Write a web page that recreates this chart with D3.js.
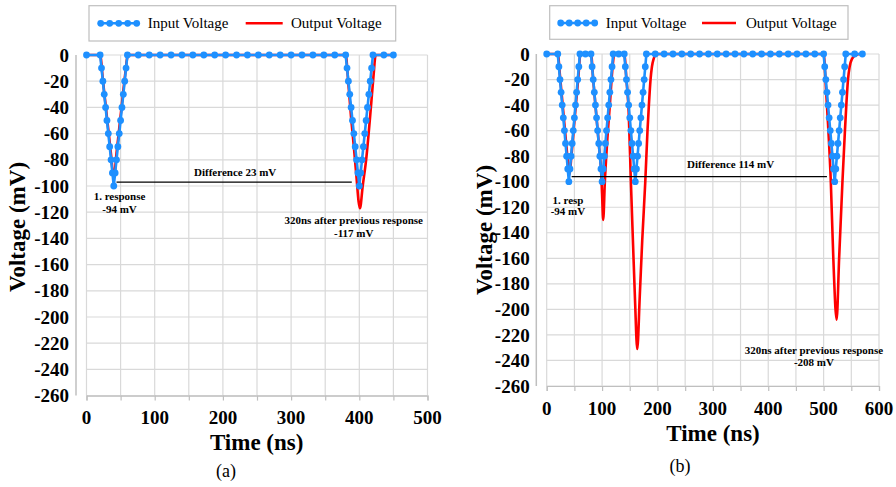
<!DOCTYPE html>
<html><head><meta charset="utf-8">
<script src="https://cdn.jsdelivr.net/npm/d3@7"></script>
<style>body{margin:0;background:#fff}svg{display:block}</style>
</head><body><svg id="c" width="896" height="487"></svg>
<script>
// ---------------- DATA ----------------
const yTicks = [0, -20, -40, -60, -80, -100, -120, -140, -160, -180, -200, -220, -240, -260];
const xTicksA = [0, 100, 200, 300, 400, 500];
const xTicksB = [0, 100, 200, 300, 400, 500, 600];
const xGridA = [0, 50, 100, 150, 200, 250, 300, 350, 400, 450, 500];
const xGridB = [0, 50, 100, 150, 200, 250, 300, 350, 400, 450, 500, 550, 600];
const seriesNames = ["Input Voltage", "Output Voltage"];

// (a) input voltage
const inputTimeA = [0, 20, 22, 24, 26, 28, 30, 32, 34, 36, 38, 40, 42, 44, 46, 48, 50, 52, 54, 56, 58, 60,
  76, 92, 108, 124, 140, 156, 172, 188, 204, 220, 236, 252, 268, 284, 300, 316, 332, 348, 364, 380,
  382, 384, 386, 388, 390, 392, 394, 396, 398, 400, 402, 404, 406, 408, 410, 412, 414, 416, 418, 420, 436, 450];
const inputVoltA = [0, 0, -10, -20, -30, -40, -50, -60, -70, -80, -90, -100, -90, -80, -70, -60, -50, -40, -30, -20, -10, 0,
  0, 0, 0, 0, 0, 0, 0, 0, 0, 0, 0, 0, 0, 0, 0, 0, 0, 0, 0, 0,
  -10, -20, -30, -40, -50, -60, -70, -80, -90, -100, -90, -80, -70, -60, -50, -40, -30, -20, -10, 0, 0, 0];
// (a) output voltage
const outputTimeA = [0, 20, 24, 28, 32, 36, 40, 44, 48, 52, 56, 61, 120, 240, 380, 384, 388, 392, 396, 399, 401, 405, 410, 417, 421, 424, 440, 450];
const outputVoltA = [0, 0, -19, -38, -57, -76, -94, -75, -56, -37, -18, 0, 0, 0, 0, -22, -48, -70, -94, -112, -117, -100, -80, -40, -15, 0, 0, 0];

// (b) input voltage
const inputTimeB = [0, 20, 22, 24, 26, 28, 30, 32, 34, 36, 38, 40, 42, 44, 46, 48, 50, 52, 54, 56, 58, 60,
  70, 80, 82, 84, 86, 88, 90, 92, 94, 96, 98, 100, 102, 104, 106, 108, 110, 112, 114, 116, 118, 120,
  130, 140, 142, 144, 146, 148, 150, 152, 154, 156, 158, 160, 162, 164, 166, 168, 170, 172, 174, 176, 178, 180,
  196, 212, 228, 244, 260, 276, 292, 308, 324, 340, 356, 372, 388, 404, 420, 436, 452, 468, 484, 500,
  502, 504, 506, 508, 510, 512, 514, 516, 518, 520, 522, 524, 526, 528, 530, 532, 534, 536, 538, 540, 556, 570];
const inputVoltB = [0, 0, -10, -20, -30, -40, -50, -60, -70, -80, -90, -100, -90, -80, -70, -60, -50, -40, -30, -20, -10, 0,
  0, 0, -10, -20, -30, -40, -50, -60, -70, -80, -90, -100, -90, -80, -70, -60, -50, -40, -30, -20, -10, 0,
  0, 0, -10, -20, -30, -40, -50, -60, -70, -80, -90, -100, -90, -80, -70, -60, -50, -40, -30, -20, -10, 0,
  0, 0, 0, 0, 0, 0, 0, 0, 0, 0, 0, 0, 0, 0, 0, 0, 0, 0, 0, 0,
  -10, -20, -30, -40, -50, -60, -70, -80, -90, -100, -90, -80, -70, -60, -50, -40, -30, -20, -10, 0, 0, 0];
// (b) output voltage
const outputTimeB = [0, 20, 24, 28, 32, 36, 41, 45, 49, 53, 57, 61, 70, 80, 84, 88, 92, 96, 98, 100, 102, 105, 109, 114, 119, 122,
  130, 140, 144, 148, 152, 156, 159.5, 163.5, 168, 172.5, 178, 182, 184.5, 187.5, 190, 193, 198, 300, 400, 500,
  504, 508, 513, 517.5, 523.5, 528, 534, 538.5, 541, 544, 547, 551, 558, 566, 570];
const outputVoltB = [0, 0, -17, -36, -55, -74, -94, -78, -58, -38, -19, 0, 0, 0, -20, -40, -60, -80, -90, -110, -130, -100, -70, -40, -10, 0,
  0, 0, -20, -45, -100, -150, -193, -231, -190, -146, -100, -60, -40, -20, -10, -4, 0, 0, 0, 0,
  -25, -55, -100, -160, -208, -160, -100, -60, -40, -20, -10, -4, -1, 0, 0];

// annotations (data units)
const diffA = { x1: 44, x2: 389, y: -97, label: "Difference 23 mV" };
const diffB = { x1: 45, x2: 506, y: -96, label: "Difference 114 mV" };
const notesA = [["1. response", "-94 mV"], ["320ns after previous response", "-117 mV"]];
const notesB = [["1. resp", "-94 mV"], ["320ns after previous response", "-208 mV"]];

// ---------------- DRAW ----------------
const BLUE = "#1e90ff", RED = "#ff0000", GRID = "#d9d9d9", AXIS = "#bfbfbf";
const FONT = "'Liberation Serif','Times New Roman',serif";
const svg = d3.select("#c");

function panel(cfg) {
  const g = svg.append("g");
  const x = d3.scaleLinear().domain(cfg.xDomain).range(cfg.xRange);
  const y = d3.scaleLinear().domain([0, -260]).range(cfg.yRange);
  const [x0, x1] = cfg.xRange, [y0, y1] = cfg.yRange;

  // grid
  g.append("g").selectAll("line").data(yTicks).join("line")
    .attr("x1", x0).attr("x2", x1).attr("y1", d => y(d)).attr("y2", d => y(d))
    .attr("stroke", GRID).attr("stroke-width", 1.2);
  g.append("g").selectAll("line").data(cfg.xGrid).join("line")
    .attr("x1", d => x(d)).attr("x2", d => x(d)).attr("y1", y0).attr("y2", y1)
    .attr("stroke", GRID).attr("stroke-width", 1.2);

  // x axis
  const xa = d3.axisBottom(x).tickValues(cfg.xGrid).tickSize(5).tickFormat("");
  const xg = g.append("g").attr("transform", `translate(0,${y1})`).call(xa);
  xg.select(".domain").attr("stroke", AXIS).attr("stroke-width", 1.2);
  xg.selectAll(".tick line").attr("stroke", AXIS).attr("stroke-width", 1.2);
  g.append("g").selectAll("text").data(cfg.xTicks).join("text")
    .attr("x", d => x(d)).attr("y", cfg.xLabelY).attr("text-anchor", "middle")
    .attr("font-family", FONT).attr("font-weight", "bold").attr("font-size", 19)
    .text(d => d);

  // y axis line (offset) + labels
  g.append("line").attr("x1", cfg.yAxisX).attr("x2", cfg.yAxisX).attr("y1", y0).attr("y2", y1)
    .attr("stroke", AXIS).attr("stroke-width", 1.5);
  g.append("g").selectAll("text").data(yTicks).join("text")
    .attr("x", cfg.yLabelX).attr("y", d => y(d)).attr("dy", "0.35em").attr("text-anchor", "end")
    .attr("font-family", FONT).attr("font-weight", "bold").attr("font-size", 19)
    .text(d => d);

  // titles
  g.append("text").attr("x", cfg.xTitle[0]).attr("y", cfg.xTitle[1]).attr("text-anchor", "middle")
    .attr("font-family", FONT).attr("font-weight", "bold").attr("font-size", 23).text("Time (ns)");
  g.append("text").attr("transform", `translate(${cfg.yTitle[0]},${cfg.yTitle[1]}) rotate(-90)`)
    .attr("text-anchor", "middle")
    .attr("font-family", FONT).attr("font-weight", "bold").attr("font-size", 23).text("Voltage (mV)");
  g.append("text").attr("x", cfg.caption[0]).attr("y", cfg.caption[1]).attr("text-anchor", "middle")
    .attr("font-family", FONT).attr("font-size", 18).text(cfg.caption[2]);

  // series
  const outData = cfg.outT.map((t, i) => [t, cfg.outV[i]]);
  const inData = cfg.inT.map((t, i) => [t, cfg.inV[i]]);
  g.append("path").datum(outData)
    .attr("d", d3.line().x(d => x(d[0])).y(d => y(d[1])).curve(d3.curveMonotoneX))
    .attr("fill", "none").attr("stroke", RED).attr("stroke-width", 2.6).attr("stroke-linejoin", "round");
  g.append("path").datum(inData)
    .attr("d", d3.line().x(d => x(d[0])).y(d => y(d[1])))
    .attr("fill", "none").attr("stroke", BLUE).attr("stroke-width", 2.6);
  g.append("g").selectAll("circle").data(inData).join("circle")
    .attr("cx", d => x(d[0])).attr("cy", d => y(d[1])).attr("r", 3.4).attr("fill", BLUE);

  // difference line
  g.append("line").attr("x1", x(cfg.diff.x1)).attr("x2", x(cfg.diff.x2))
    .attr("y1", y(cfg.diff.y)).attr("y2", y(cfg.diff.y)).attr("stroke", "#000").attr("stroke-width", 1.2);
  const ann = (tx, ty, s) => g.append("text").attr("x", x(tx)).attr("y", y(ty)).attr("text-anchor", "middle")
    .attr("font-family", FONT).attr("font-weight", "bold").attr("font-size", 11).text(s);
  ann(cfg.diffLabel[0], cfg.diffLabel[1], cfg.diff.label);
  cfg.notesPos.forEach((p, i) => {
    ann(p[0], p[1], cfg.notes[i][0]);
    ann(p[0], p[2], cfg.notes[i][1]);
  });

  // legend
  const L = cfg.legend;
  g.append("rect").attr("x", L.box[0]).attr("y", L.box[1]).attr("width", L.box[2]).attr("height", L.box[3])
    .attr("fill", "#fff").attr("stroke", AXIS).attr("stroke-width", 1.2);
  g.append("line").attr("x1", L.blue[0]).attr("x2", L.blue[1]).attr("y1", L.ly).attr("y2", L.ly)
    .attr("stroke", BLUE).attr("stroke-width", 2.6);
  const step = (L.blue[1] - L.blue[0]) / 4;
  g.append("g").selectAll("circle").data(d3.range(5)).join("circle")
    .attr("cx", i => L.blue[0] + i * step).attr("cy", L.ly).attr("r", 3.4).attr("fill", BLUE);
  g.append("line").attr("x1", L.red[0]).attr("x2", L.red[1]).attr("y1", L.ly).attr("y2", L.ly)
    .attr("stroke", RED).attr("stroke-width", 2.6);
  g.append("text").attr("x", L.t1).attr("y", L.ty).attr("font-family", FONT).attr("font-size", 15).text(seriesNames[0]);
  g.append("text").attr("x", L.t2).attr("y", L.ty).attr("font-family", FONT).attr("font-size", 15).text(seriesNames[1]);
}

panel({
  xDomain: [0, 500], xRange: [86.5, 427.5], yRange: [55, 395.6],
  xGrid: xGridA, xTicks: xTicksA, xLabelY: 424, yAxisX: 76, yLabelX: 69,
  xTitle: [256.7, 450], yTitle: [25, 227], caption: [226, 477, "(a)"],
  inT: inputTimeA, inV: inputVoltA, outT: outputTimeA, outV: outputVoltA,
  diff: diffA, diffLabel: [218, -92.4], notes: notesA,
  notesPos: [[48.4, -110.7, -120.6], [391.8, -129, -139]],
  legend: { box: [89, 5.7, 306.7, 35.3], blue: [100.7, 136.7], red: [245.7, 282.7], ly: 23.3, t1: 147.7, t2: 291, ty: 28.3 }
});
panel({
  xDomain: [0, 600], xRange: [546.7, 879], yRange: [54, 386],
  xGrid: xGridB, xTicks: xTicksB, xLabelY: 415, yAxisX: 536.3, yLabelX: 529.7,
  xTitle: [713, 441], yTitle: [492, 230], caption: [680, 472, "(b)"],
  inT: inputTimeB, inV: inputVoltB, outT: outputTimeB, outV: outputVoltB,
  diff: diffB, diffLabel: [332, -89.5], notes: notesB,
  notesPos: [[38.4, -117.5, -126], [482.5, -235, -244.5]],
  legend: { box: [549.7, 5.7, 298.3, 33.6], blue: [560.7, 594.7], red: [702, 736], ly: 23, t1: 605.7, t2: 746, ty: 28 }
});
</script></body></html>
